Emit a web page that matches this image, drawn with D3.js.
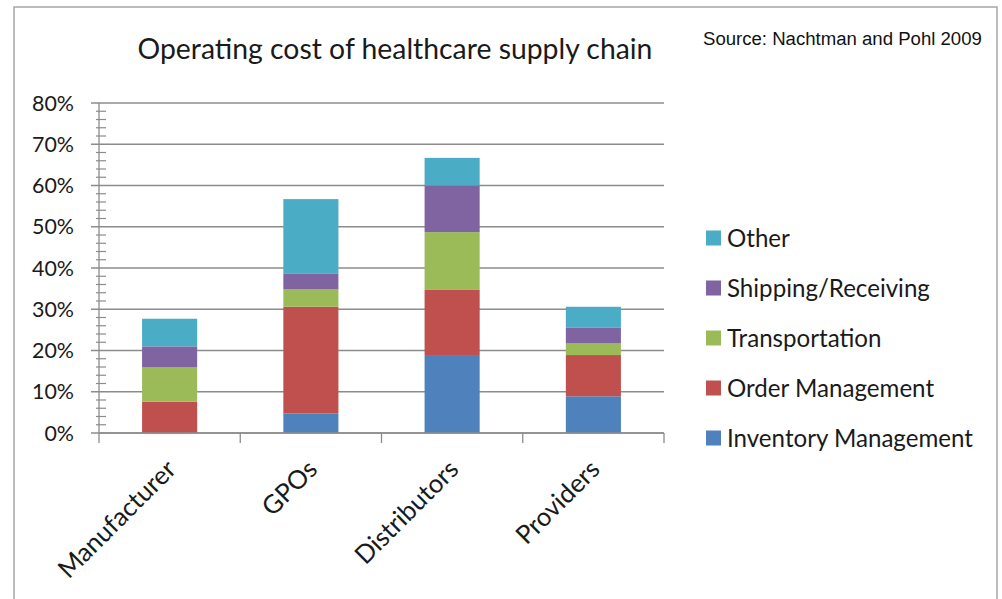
<!DOCTYPE html>
<html><head><meta charset="utf-8">
<script src="https://cdn.jsdelivr.net/npm/d3@7"></script>
<style>html,body{margin:0;padding:0;background:#fff;overflow:hidden}</style>
</head><body><svg id="chart" width="1002" height="599"></svg>
<script>
const categories = ["Manufacturer", "GPOs", "Distributors", "Providers"];
const seriesNames = ["Inventory Management", "Order Management", "Transportation", "Shipping/Receiving", "Other"];
const inventoryManagement = [0, 4.7, 18.9, 8.9];
const orderManagement = [7.6, 25.9, 15.9, 10.0];
const transportation = [8.3, 4.2, 13.9, 2.8];
const shippingReceiving = [5.1, 3.9, 11.3, 3.9];
const other = [6.7, 18.0, 6.7, 5.0];
const yTicks = [0, 10, 20, 30, 40, 50, 60, 70, 80];
const titleText = "Operating cost of healthcare supply chain";
const sourceText = "Source: Nachtman and Pohl 2009";

const colors = ["#4F81BD", "#C0504D", "#9BBB59", "#8064A2", "#4BACC6"];
const font = "Lato, 'Open Sans', sans-serif";
const seriesValues = [inventoryManagement, orderManagement, transportation, shippingReceiving, other];

const rows = categories.map((c, i) => {
  const r = {cat: c};
  seriesNames.forEach((s, j) => r[s] = seriesValues[j][i]);
  return r;
});
const stacked = d3.stack().keys(seriesNames)(rows);

const svg = d3.select("#chart");
const M = {left: 99, right: 664, top: 103, bottom: 433};

// frame
svg.append("rect").attr("x", 14).attr("y", 7).attr("width", 983).attr("height", 620)
  .attr("fill", "#fff").attr("stroke", "#a6a6a6").attr("stroke-width", 1.5);

function fit(sel, target) {
  const n = sel.node();
  const fs = parseFloat(sel.attr("font-size"));
  const w = n.getComputedTextLength();
  sel.attr("font-size", (fs * target / w).toFixed(2));
}

const x = d3.scaleBand().domain(categories).range([M.left, M.right]).paddingInner(0.61).paddingOuter(0.305);
const y = d3.scaleLinear().domain([0, 80]).range([M.bottom, M.top]);

// gridlines
svg.append("g").selectAll("line").data(yTicks).join("line")
  .attr("x1", M.left - 8).attr("x2", M.right)
  .attr("y1", d => y(d)).attr("y2", d => y(d))
  .attr("stroke", "#8c8c8c").attr("stroke-width", 1.3);

// y axis line
svg.append("line").attr("x1", M.left).attr("x2", M.left).attr("y1", M.top).attr("y2", M.bottom)
  .attr("stroke", "#8c8c8c").attr("stroke-width", 1.3);
// minor ticks
const minor = d3.range(0, 80.001, 2).filter(v => v % 10 !== 0);
svg.append("g").selectAll("line").data(minor).join("line")
  .attr("x1", M.left - 3).attr("x2", M.left + 7)
  .attr("y1", d => y(d)).attr("y2", d => y(d))
  .attr("stroke", "#8c8c8c").attr("stroke-width", 1.2);

// y labels
const yl = svg.append("g").selectAll("text").data(yTicks).join("text")
  .attr("x", 74).attr("y", d => y(d)).attr("dy", "0.36em")
  .attr("text-anchor", "end").attr("font-family", font).attr("font-size", 22)
  .attr("fill", "#1a1a1a").text(d => d + "%");

// bars
svg.append("g").selectAll("g").data(stacked).join("g")
  .attr("fill", (d, i) => colors[i])
  .selectAll("rect").data(d => d).join("rect")
  .attr("x", d => x(d.data.cat))
  .attr("width", x.bandwidth())
  .attr("y", d => y(d[1]))
  .attr("height", d => y(d[0]) - y(d[1]));

// x axis line + ticks
svg.append("line").attr("x1", M.left).attr("x2", M.right).attr("y1", M.bottom).attr("y2", M.bottom)
  .attr("stroke", "#8c8c8c").attr("stroke-width", 1.3);
const step = x.step();
const bounds = d3.range(categories.length + 1).map(i => M.left + i * step);
svg.append("g").selectAll("line").data(bounds).join("line")
  .attr("x1", d => d).attr("x2", d => d).attr("y1", M.bottom).attr("y2", M.bottom + 10)
  .attr("stroke", "#8c8c8c").attr("stroke-width", 1.3);

// x labels
const xl = svg.append("g").selectAll("text").data(categories).join("text")
  .attr("transform", d => `translate(${x(d) + x.bandwidth() / 2 + 8},${M.bottom + 38}) rotate(-45)`)
  .attr("text-anchor", "end").attr("font-family", font).attr("font-size", 22)
  .attr("fill", "#1a1a1a").text(d => d);

// title
const t = svg.append("text").attr("x", 395).attr("y", 59).attr("text-anchor", "middle")
  .attr("font-family", font).attr("font-size", 28).attr("fill", "#1a1a1a").text(titleText);
fit(t, 515);

// source
const s = svg.append("text").attr("x", 703).attr("y", 45)
  .attr("font-family", "'Liberation Sans', Arial, sans-serif").attr("font-size", 18)
  .attr("fill", "#111").text(sourceText);
fit(s, 279);

// legend
const legendOrder = seriesNames.map((n, i) => ({n, i})).reverse();
const lg = svg.append("g").selectAll("g").data(legendOrder).join("g")
  .attr("transform", (d, k) => `translate(706,${238 + k * 50})`);
lg.append("rect").attr("x", 0).attr("y", -7.5).attr("width", 15).attr("height", 15)
  .attr("fill", d => colors[d.i]);
const lt = lg.append("text").attr("x", 21).attr("y", 0).attr("dy", "0.36em")
  .attr("font-family", font).attr("font-size", 23).attr("fill", "#1a1a1a").text(d => d.n);
// scale legend font so widest entry matches
{
  const w = lt.filter(d => d.n === "Inventory Management").node().getComputedTextLength();
  lt.attr("font-size", (23 * 246 / w).toFixed(2));
}
// axis label sizes
{
  const w = yl.filter(d => d === 80).node().getComputedTextLength();
  yl.attr("font-size", (22 * 42 / w).toFixed(2));
  const w2 = xl.filter(d => d === "Manufacturer").node().getComputedTextLength();
  xl.attr("font-size", (22 * 154 / w2).toFixed(2));
}
</script></body></html>
